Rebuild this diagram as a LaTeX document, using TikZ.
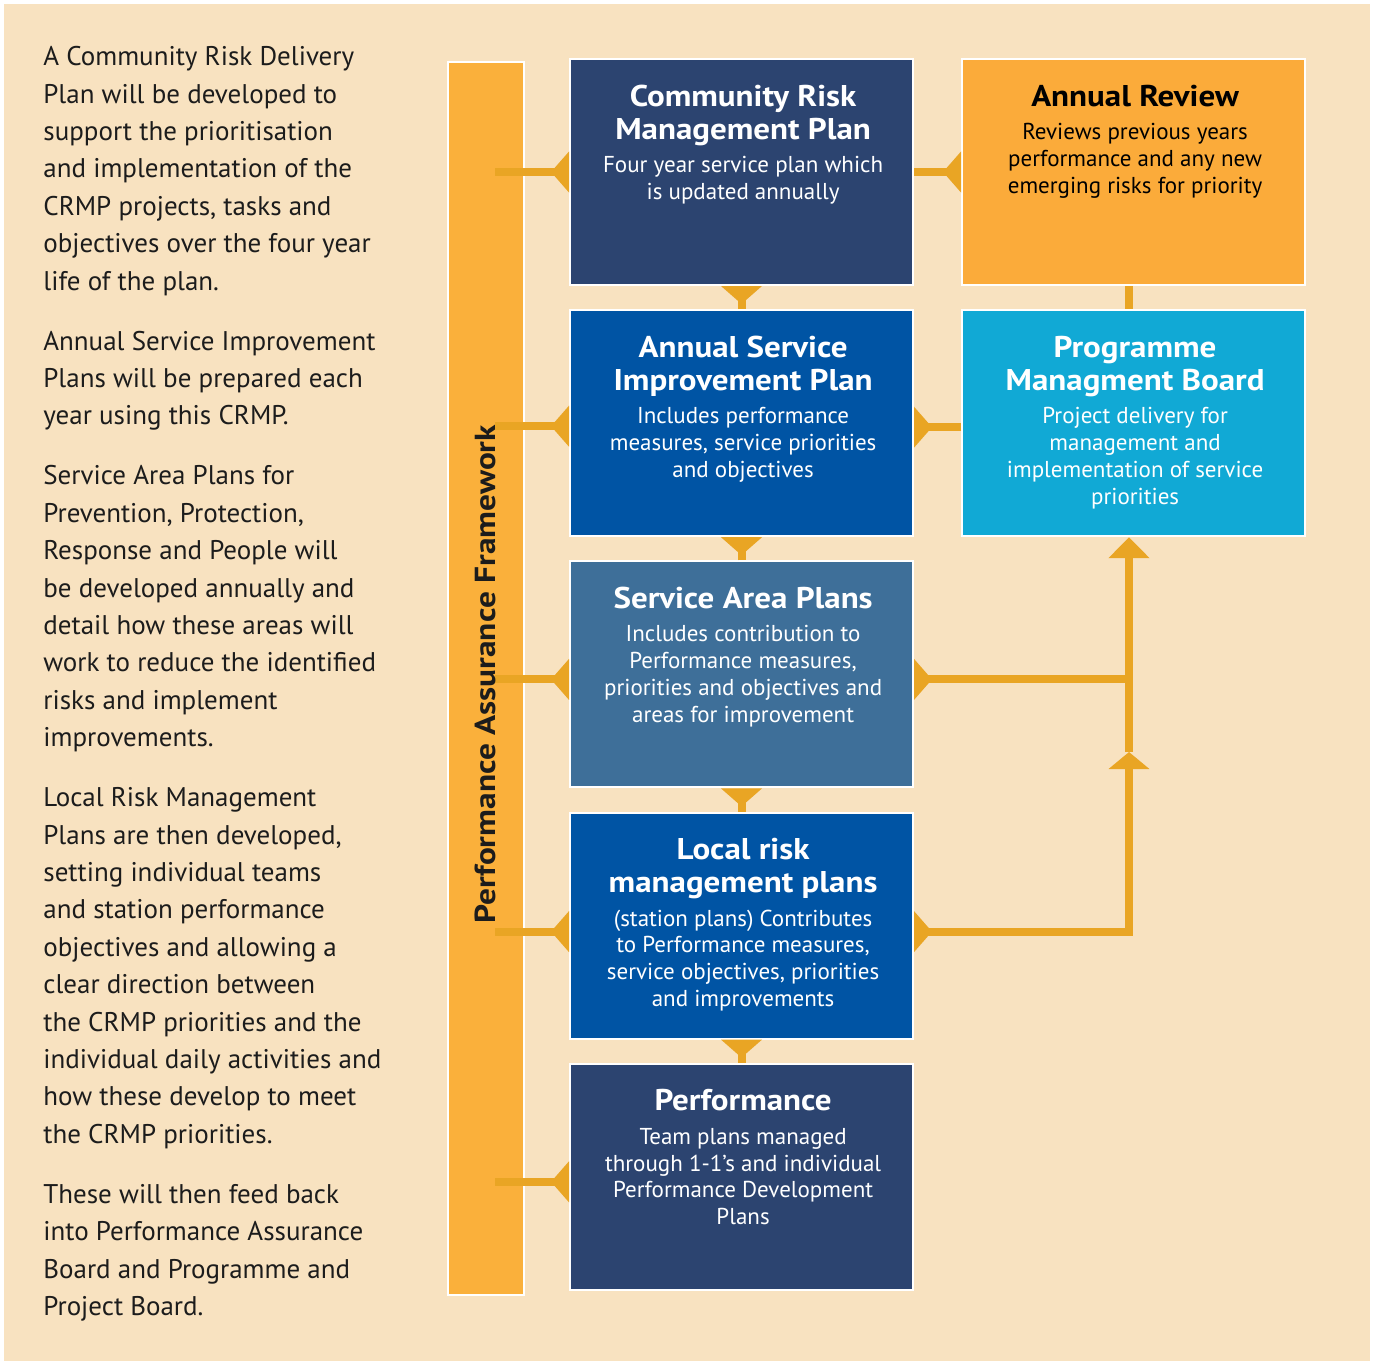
\documentclass[tikz,border=0pt]{standalone}
\usepackage{fontspec}
\setmainfont{PT Sans}
\newfontfamily\headfam{PT Sans}[FakeStretch=1.1]
\newfontfamily\barfam{PT Sans}[FakeStretch=1.15]
\usetikzlibrary{arrows.meta, positioning}
\definecolor{paper}{HTML}{F8E2C0}
\definecolor{barorange}{HTML}{FAB03B}
\definecolor{linkorange}{HTML}{E9A524}
\definecolor{navy}{HTML}{2C4470}
\definecolor{royal}{HTML}{0054A4}
\definecolor{steel}{HTML}{3E6F99}
\definecolor{amber}{HTML}{FBAB3A}
\definecolor{cyan}{HTML}{11A9D5}
\definecolor{ink}{HTML}{1C1C1C}
\newcommand{\titlefont}{\headfam\bfseries\fontsize{15}{16.5}\selectfont}
\newcommand{\bodyfont}{\fontsize{11.5}{13.4}\selectfont}
\newcommand{\boxtext}[2]{\hspace{1.6pt}\parbox[t][112pt][t]{168pt}{\centering
  \rule{0pt}{23pt}{\titlefont #1\par}
  \vspace{3.3pt}{\bodyfont #2\par}}\hspace{-1.6pt}}
\tikzset{
  planbox/.style = {draw=white, line width=1pt, rectangle, minimum width=171.5pt, minimum height=113pt, inner sep=0pt, text=white},
  feedline/.style = {draw=linkorange, line width=4pt, -{Triangle[reversed, width=20pt, length=9pt]}},
  joinline/.style = {draw=linkorange, line width=4pt},
  notes/.style = {align=left, inner sep=0pt, text=ink, font=\fontsize{13.5}{18.7}\selectfont}
}

\begin{document}
\begin{tikzpicture}[x=0.5pt, y=-0.5pt, node distance=11.6pt and 23.5pt]

    % Page and background
    \useasboundingbox (0,0) rectangle (1375,1361);
    \fill[white] (0,0) rectangle (1375,1361);
    \fill[paper] (4,4) rectangle (1370,1361);

    % Place the nodes
    \node [planbox, fill=navy] (crmp) at (741.5,172) {\boxtext{Community Risk\\Management Plan}{Four year service plan which\\is updated annually}};
    \node [planbox, fill=royal, below=of crmp] (asip) {\boxtext{Annual Service\\Improvement Plan}{Includes performance\\measures, service priorities\\and objectives}};
    \node [planbox, fill=steel, below=of asip] (sap) {\boxtext{Service Area Plans}{Includes contribution to\\Performance measures,\\priorities and objectives and\\areas for improvement}};
    \node [planbox, fill=royal, below=of sap] (lrmp) {\boxtext{Local risk\\management plans}{(station plans) Contributes\\to Performance measures,\\service objectives, priorities\\and improvements}};
    \node [planbox, fill=navy, below=of lrmp] (perf) {\boxtext{Performance}{Team plans managed\\through 1-1’s and individual\\Performance Development\\Plans}};
    \node [planbox, fill=amber, text=black, right=of crmp] (review) {\boxtext{Annual Review}{Reviews previous years\\performance and any new\\emerging risks for priority}};
    \node [planbox, fill=cyan, below=of review] (pmb) {\boxtext{Programme\\Managment Board}{Project delivery for\\management and\\implementation of service\\priorities}};
    \node [planbox, fill=barorange, minimum width=38pt, minimum height=616.5pt] (bar) at (486,678.5) {};

    % Left hand notes
    \node [notes, anchor=north west] (notes) at (43,46) {A Community Risk Delivery\\
      Plan will be developed to\\
      support the prioritisation\\
      and implementation of the\\
      CRMP projects, tasks and\\
      objectives over the four year\\
      life of the plan.\\[11.3pt]
      Annual Service Improvement\\
      Plans will be prepared each\\
      year using this CRMP.\\[11.3pt]
      Service Area Plans for\\
      Prevention, Protection,\\
      Response and People will\\
      be developed annually and\\
      detail how these areas will\\
      work to reduce the identified\\
      risks and implement\\
      improvements.\\[11.3pt]
      Local Risk Management\\
      Plans are then developed,\\
      setting individual teams\\
      and station performance\\
      objectives and allowing a\\
      clear direction between\\
      the CRMP priorities and the\\
      individual daily activities and\\
      how these develop to meet\\
      the CRMP priorities.\\[11.3pt]
      These will then feed back\\
      into Performance Assurance\\
      Board and Programme and\\
      Project Board.};

    % Links from the framework bar
    \draw [feedline] ([xshift=-15pt]bar.east |- crmp.west) -- (crmp.west);
    \draw [feedline] ([xshift=-15pt, yshift=-1.5pt]bar.east |- asip.west) -- ([yshift=-1.5pt]asip.west);
    \draw [feedline] ([xshift=-15pt, yshift=-2.5pt]bar.east |- sap.west) -- ([yshift=-2.5pt]sap.west);
    \draw [feedline] ([xshift=-15pt, yshift=-3pt]bar.east |- lrmp.west) -- ([yshift=-3pt]lrmp.west);
    \draw [feedline] ([xshift=-15pt, yshift=-2.5pt]bar.east |- perf.west) -- ([yshift=-2.5pt]perf.west);
    \node [rotate=90, text=ink, font=\barfam\bfseries\fontsize{14.5}{16}\selectfont] (paf) at (485,674) {Performance Assurance Framework};

    % Down the middle column
    \draw [feedline] (asip) -- (crmp);
    \draw [feedline] (sap) -- (asip);
    \draw [feedline] (lrmp) -- (sap);
    \draw [feedline] (perf) -- (lrmp);

    % Right hand side
    \draw [feedline] (crmp) -- (review);
    \draw [feedline] ([yshift=-2pt]pmb.west) -- ([yshift=-2pt]asip.east);
    \coordinate (lift) at (1129,752);
    \draw [joinline] (lift |- review.south) -- (lift |- pmb.north);
    \draw [joinline, {Triangle[reversed, width=20pt, length=9pt]}-{Triangle[width=20pt, length=8.5pt]}] ([yshift=-3pt]lrmp.east) -| (lift);
    \draw [joinline, -{Triangle[width=20pt, length=10.5pt]}] (lift) -- (lift |- pmb.south);
    \draw [feedline] ([yshift=-2.5pt]lift |- sap.east) -- ([yshift=-2.5pt]sap.east);

\end{tikzpicture}
\end{document}
